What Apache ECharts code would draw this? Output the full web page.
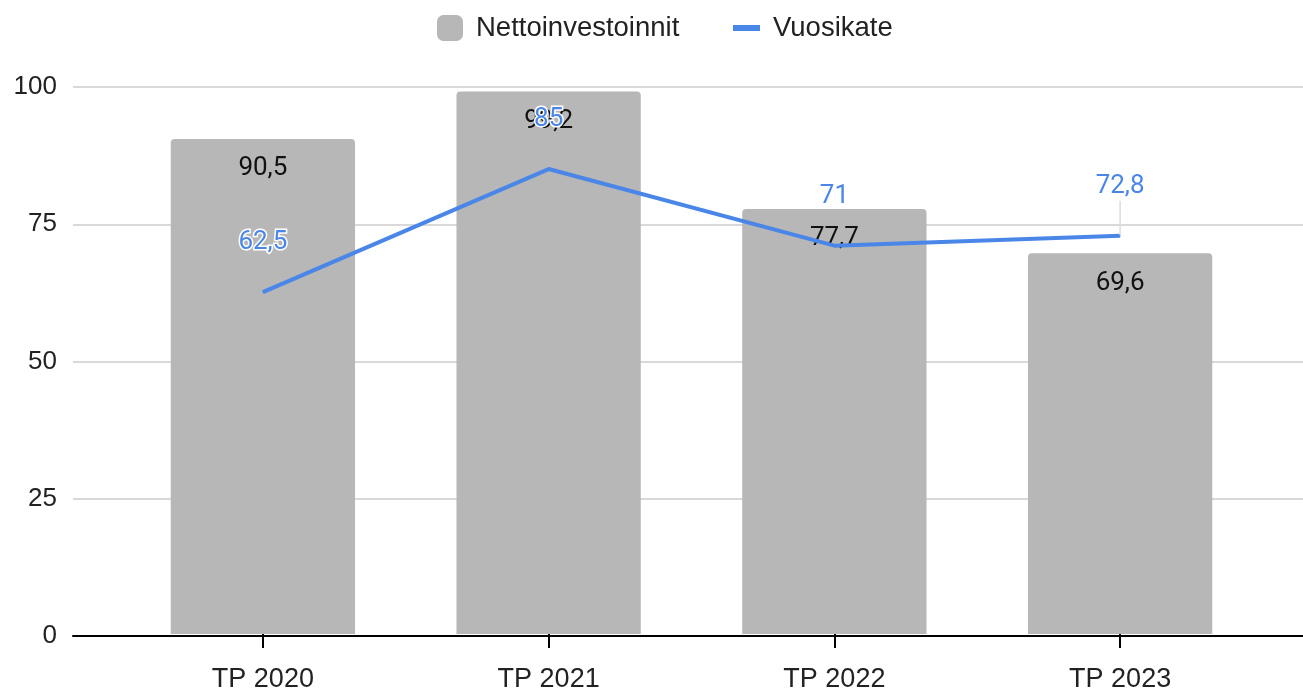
<!DOCTYPE html>
<html><head><meta charset="utf-8">
<script src="https://cdn.jsdelivr.net/npm/echarts@6/dist/echarts.min.js"></script>
<style>html,body{margin:0;padding:0;background:#fff}#c{width:1303px;height:693px}</style>
</head><body><div id="c"></div>
<script>
const categories = ['TP 2020', 'TP 2021', 'TP 2022', 'TP 2023'];
const nettoinvestoinnit = [90.5, 99.2, 77.7, 69.6];
const vuosikate = [62.5, 85, 71, 72.8];
const vuosikateLeader = [false, false, false, true];
const yTicks = [0, 25, 50, 75, 100];

const fmt = v => String(v).replace('.', ',');
const chart = echarts.init(document.getElementById('c'));
const axisFont = 'Liberation Sans, Arial, sans-serif';
const labelFont = 'Roboto, sans-serif';
const legendText = {fontFamily: axisFont, fontSize: 27.5, color: '#222', padding: [0,0,0,8]};
chart.setOption({
  animation: false,
  legend: [
    {top: 9, left: 432, itemWidth: 26, itemHeight: 26, textStyle: legendText,
     data: [{name: 'Nettoinvestoinnit', icon: 'roundRect'}]},
    {top: 9, left: 728, itemWidth: 27, itemHeight: 6, textStyle: legendText,
     data: [{name: 'Vuosikate', icon: 'rect', itemStyle: {color: '#4a86e8'}}]}
  ],
  grid: [
    {left: 73, right: 0, top: 87, bottom: 57},
    {left: 120, right: 40, top: 87, bottom: 57}
  ],
  xAxis: [
    {gridIndex: 0, type: 'category', data: categories, axisLabel: {show: false}, axisTick: {show: false},
     axisLine: {lineStyle: {color: '#000', width: 2}}},
    {gridIndex: 1, type: 'category', position: 'bottom', data: categories,
     axisLine: {show: false},
     axisTick: {show: true, alignWithLabel: true, length: 14, lineStyle: {color: '#000', width: 2}},
     axisLabel: {fontFamily: axisFont, fontSize: 27, color: '#222', margin: 32}},
    {gridIndex: 1, type: 'category', position: 'bottom', data: categories,
     axisLine: {show: false}, axisLabel: {show: false},
     axisTick: {show: true, inside: true, alignWithLabel: true, length: 13, lineStyle: {color: '#000', width: 2}}}
  ],
  yAxis: [
    {gridIndex: 0, type: 'value', min: yTicks[0], max: yTicks[yTicks.length-1], interval: 25,
     axisLabel: {fontFamily: axisFont, fontSize: 26, color: '#222', margin: 16},
     axisLine: {show: false}, axisTick: {show: false},
     splitLine: {lineStyle: {color: '#cccccc', width: 1.5}}},
    {gridIndex: 1, type: 'value', min: yTicks[0], max: yTicks[yTicks.length-1], interval: 25,
     axisLabel: {show: false}, axisLine: {show: false}, axisTick: {show: false}, splitLine: {show: false}}
  ],
  series: [
    {name: 'Nettoinvestoinnit', type: 'bar', xAxisIndex: 1, yAxisIndex: 1, data: nettoinvestoinnit,
     barWidth: '64.5%', itemStyle: {color: '#b7b7b7', borderRadius: [4,4,0,0]},
     label: {show: true, position: 'insideTop', distance: 17, fontFamily: labelFont, fontSize: 26, color: '#111',
       formatter: p => fmt(p.value)}},
    {name: 'Vuosikate', type: 'line', xAxisIndex: 1, yAxisIndex: 1,
     data: vuosikate.map((v, i) => ({value: v, labelLine: {show: vuosikateLeader[i]}})),
     symbol: 'circle', symbolSize: 1, showSymbol: true,
     lineStyle: {color: '#4a86e8', width: 4}, itemStyle: {color: '#4a86e8'},
     label: {show: true, position: 'top', distance: 4, fontFamily: labelFont, fontSize: 26, color: '#4a86e8',
       textBorderColor: '#fff', textBorderWidth: 3, formatter: p => fmt(p.value)},
     labelLayout: {dy: -32},
     labelLine: {show: true, lineStyle: {color: '#dddddd', width: 1.5}}}
  ]
});
</script></body></html>
